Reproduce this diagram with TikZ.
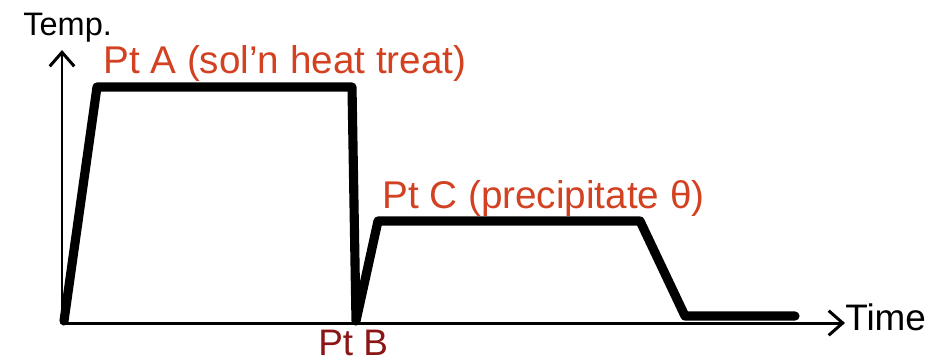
\documentclass[tikz,border=0pt]{standalone}
\usepackage{fontspec}
\setmainfont{Liberation Sans}
\usetikzlibrary{arrows.meta}
\definecolor{ptred}{RGB}{210,66,34}
\definecolor{ptdark}{RGB}{140,22,22}

\begin{document}
\begin{tikzpicture}[x=0.02cm,y=0.02cm,
  axis/.style={line width=1.7pt,-{Straight Barb[length=8pt,width=14pt,line width=1.7pt]}},
  path/.style={line width=5.2pt,line join=round,line cap=round},
  lbl/.style={anchor=base west,inner sep=0pt,font=\fontsize{21}{25}\selectfont}]
\useasboundingbox (0,0) rectangle (946,363);
% heat treatment schedule: temperature against time
\coordinate (o) at (62,40);
\coordinate (ytip) at (62,313);
\coordinate (xtip) at (845,40);
\draw[axis] (o) -- (ytip);
\draw[axis] (o) -- (xtip);
% solution treat, quench to Pt B, age at Pt C, cool
\coordinate (s0) at (64,42);
\coordinate (a1) at (97,276);
\coordinate (a2) at (352,276);
\coordinate (b) at (356,42);
\coordinate (c1) at (378,142);
\coordinate (c2) at (640,142);
\coordinate (d1) at (685,47);
\coordinate (d2) at (795,47);
\draw[path] (s0) -- (a1) -- (a2) -- (b) -- (c1) -- (c2) -- (d1) -- (d2);
\node[lbl,font=\fontsize{18.5}{22}\selectfont] (temp) at (23,328) {Temp.};
\node[lbl] (time) at (845,33) {Time};
\node[lbl,ptred,font=\fontsize{22}{26}\selectfont] (pta) at (103,290) {Pt A (sol’n heat treat)};
\node[lbl,ptdark] (ptb) at (318,8) {Pt B};
\node[lbl,ptred,font=\fontsize{22}{26}\selectfont] (ptc) at (382,155) {Pt C (precipitate θ)};
\end{tikzpicture}
\end{document}
